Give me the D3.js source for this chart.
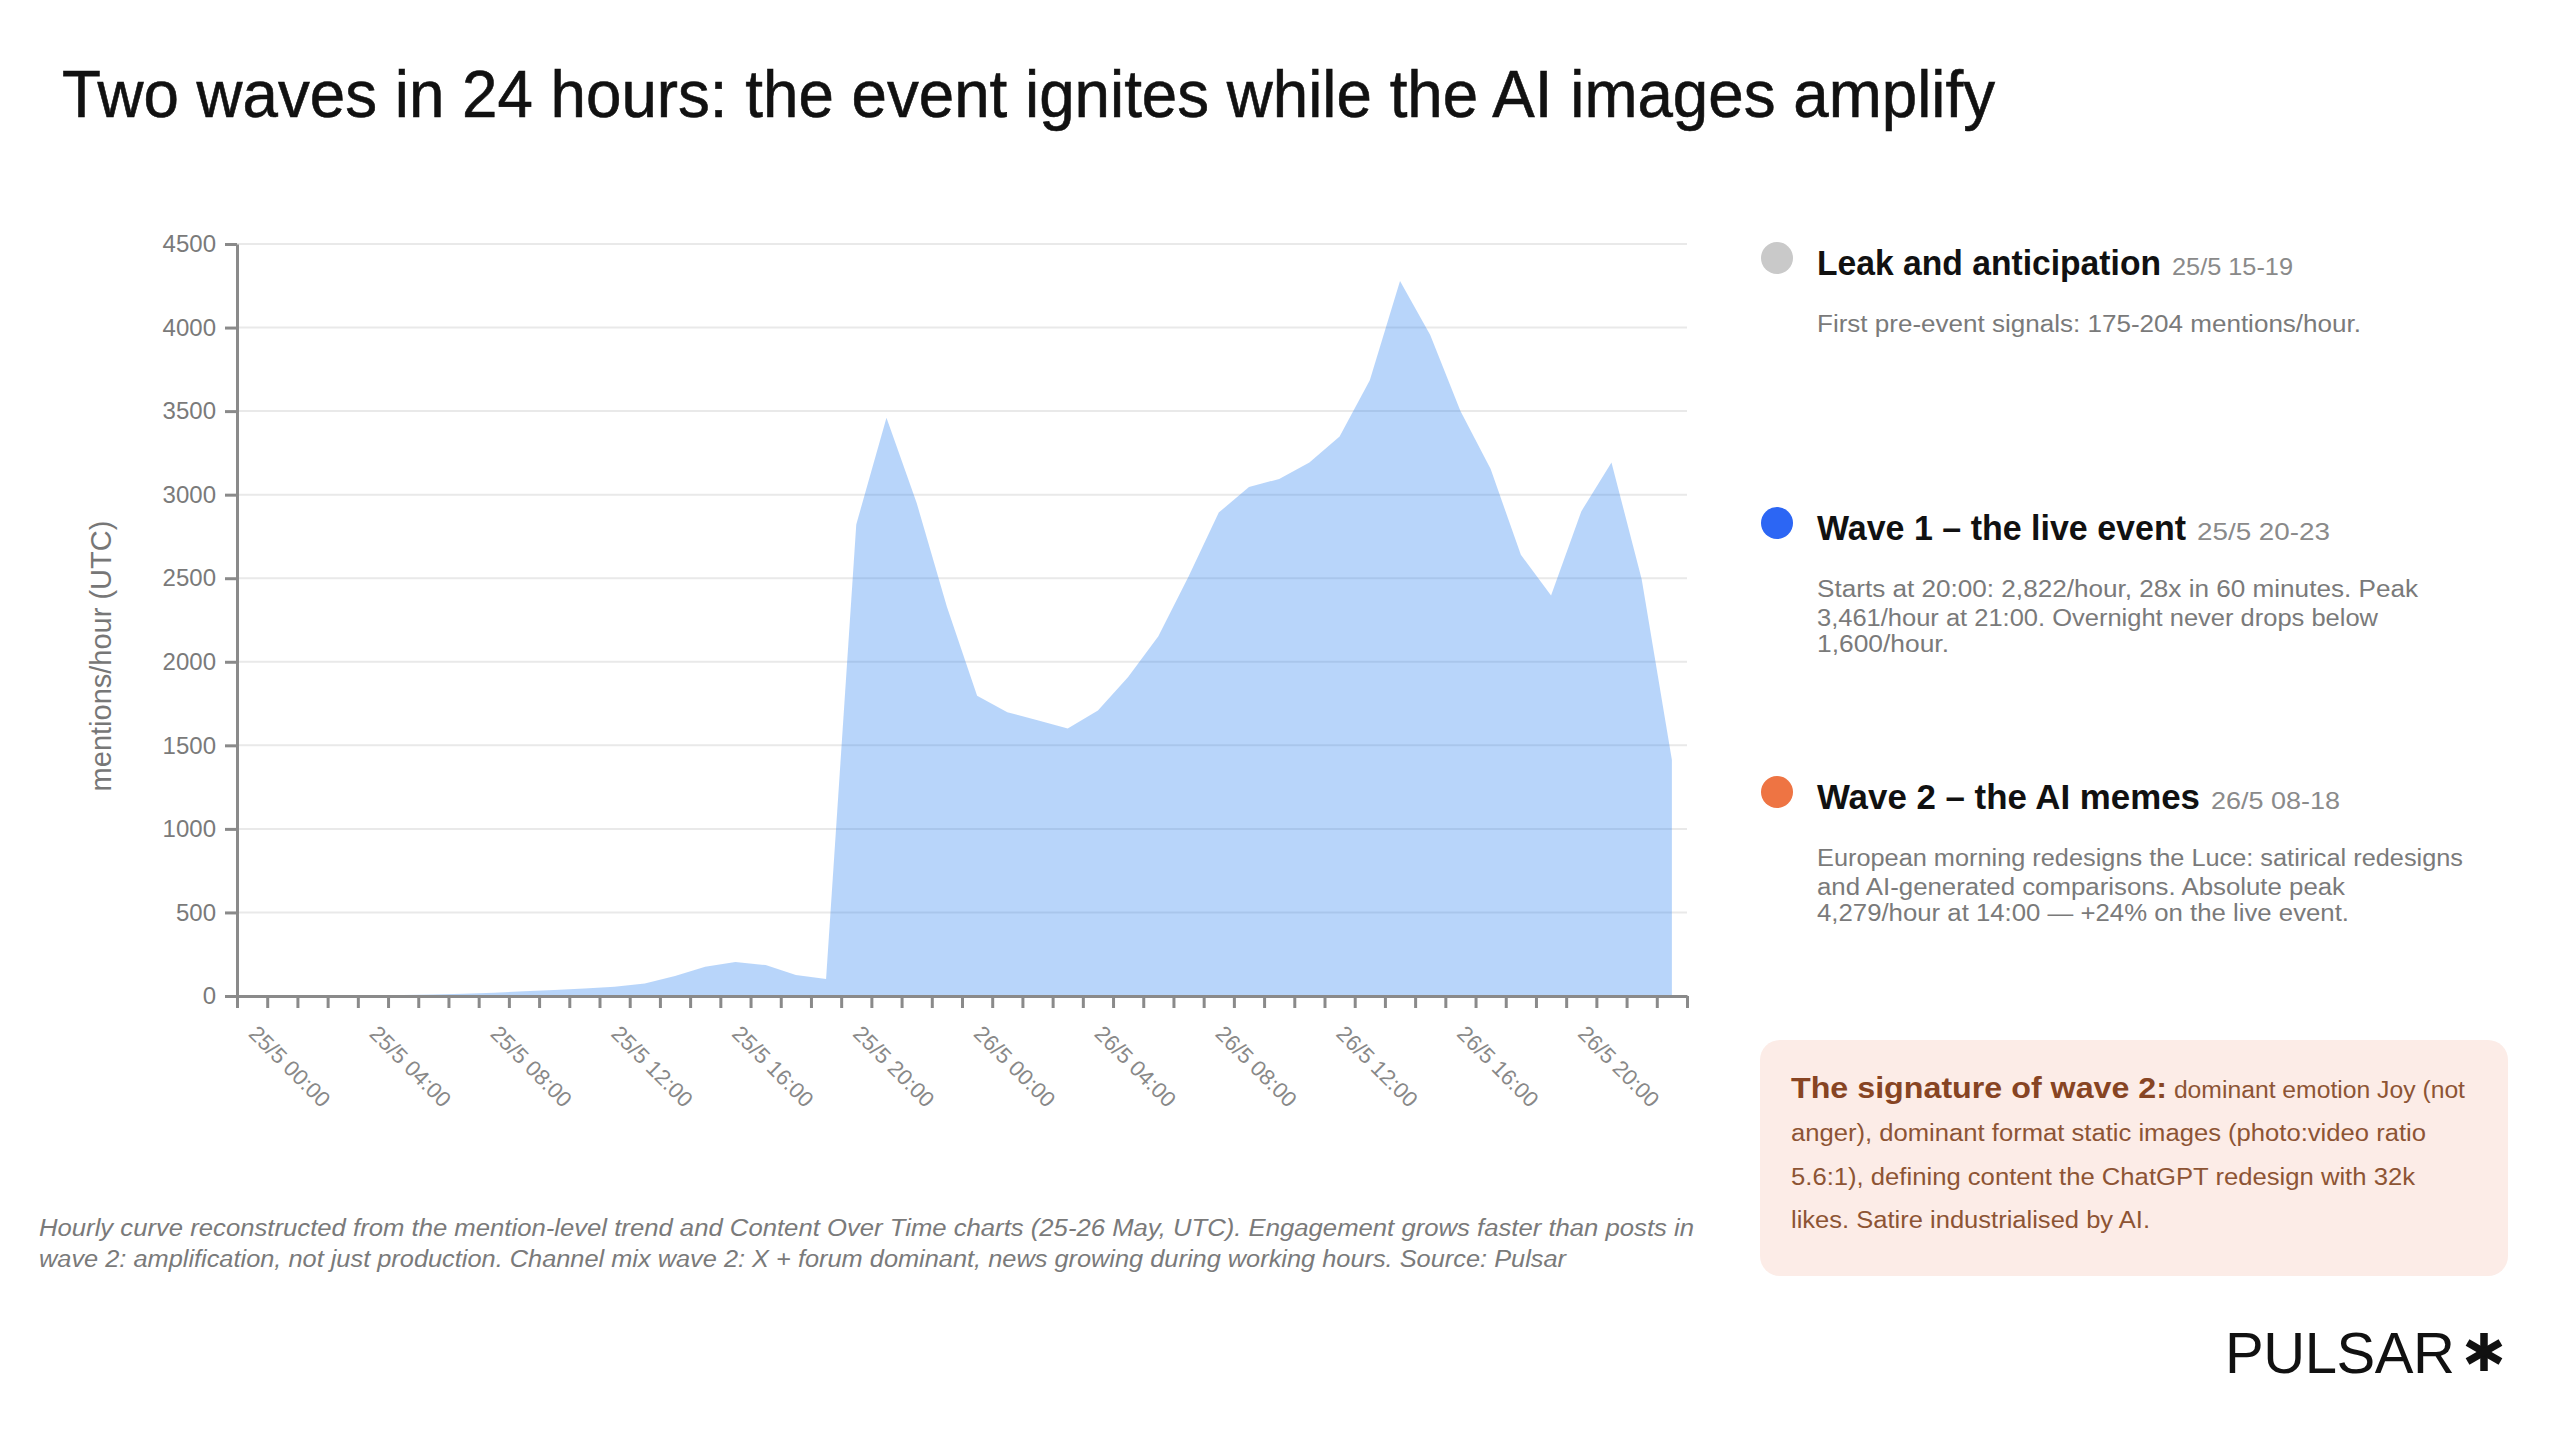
<!DOCTYPE html>
<html>
<head>
<meta charset="utf-8">
<script src="https://cdn.jsdelivr.net/npm/d3@7"></script>
<style>
  html, body { margin: 0; padding: 0; background: #fff; }
  svg { display: block; }
</style>
</head>
<body>
<div id="viz"></div>
<script>
// mentions per hour, 25/5 00:00 -> 26/5 23:00 (UTC)
const mentions = [
  2, 2, 2, 3, 4, 6, 9, 14, 20, 28, 36, 45,
  55, 75, 120, 175, 204, 185, 125, 101, 2822, 3461, 2950, 2330,
  1796, 1698, 1650, 1601, 1708, 1909, 2153, 2510, 2893, 3046, 3094, 3192,
  3348, 3685, 4279, 3955, 3500, 3153, 2640, 2396, 2900, 3192, 2494, 1412
];
const tickLabels = [
  "25/5 00:00", "25/5 04:00", "25/5 08:00", "25/5 12:00", "25/5 16:00", "25/5 20:00",
  "26/5 00:00", "26/5 04:00", "26/5 08:00", "26/5 12:00", "26/5 16:00", "26/5 20:00"
];
const yTicks = [0, 500, 1000, 1500, 2000, 2500, 3000, 3500, 4000, 4500];

const phaseTitles = ["Leak and anticipation", "Wave 1 \u2013 the live event", "Wave 2 \u2013 the AI memes"];
const phaseDates = ["25/5 15-19", "25/5 20-23", "26/5 08-18"];
const phaseColors = ["#c9c9c9", "#2c66f4", "#ee7443"];
const phaseNotes = [
  ["First pre-event signals: 175-204 mentions/hour."],
  ["Starts at 20:00: 2,822/hour, 28x in 60 minutes. Peak",
   "3,461/hour at 21:00. Overnight never drops below",
   "1,600/hour."],
  ["European morning redesigns the Luce: satirical redesigns",
   "and AI-generated comparisons. Absolute peak",
   "4,279/hour at 14:00 \u2014 +24% on the live event."]
];
const boxLead = "The signature of wave 2:";
const boxLines = [
  " dominant emotion Joy (not",
  "anger), dominant format static images (photo:video ratio",
  "5.6:1), defining content the ChatGPT redesign with 32k",
  "likes. Satire industrialised by AI."
];
const footnote = [
  "Hourly curve reconstructed from the mention-level trend and Content Over Time charts (25-26 May, UTC). Engagement grows faster than posts in",
  "wave 2: amplification, not just production. Channel mix wave 2: X + forum dominant, news growing during working hours. Source: Pulsar"
];

(function () {
  const font = "'Liberation Sans', Arial, Helvetica, sans-serif";
  const svg = d3.select("#viz").append("svg")
    .attr("width", 2560).attr("height", 1452)
    .style("font-family", font);

  // title
  svg.append("text")
    .attr("x", 62).attr("y", 117)
    .attr("font-size", 66).attr("fill", "#111")
    .attr("stroke", "#111").attr("stroke-width", 0.6)
    .attr("textLength", 1933).attr("lengthAdjust", "spacingAndGlyphs")
    .text("Two waves in 24 hours: the event ignites while the AI images amplify");

  // chart area
  const margin = { top: 244, left: 237 };
  const width = 1450, height = 752;
  const g = svg.append("g").attr("transform", `translate(${margin.left},${margin.top})`);

  const x = d3.scaleLinear().domain([0, 48]).range([0, width]);
  const y = d3.scaleLinear().domain([0, 4500]).range([height, 0]);

  g.selectAll("line.grid").data(yTicks).join("line")
    .attr("class", "grid")
    .attr("x1", 0).attr("x2", width)
    .attr("y1", d => y(d)).attr("y2", d => y(d))
    .attr("stroke", "#e9e9e9").attr("stroke-width", 2);

  const area = d3.area()
    .x((d, i) => x(i + 0.5))
    .y0(y(0))
    .y1(d => y(d));
  g.append("path")
    .datum(mentions)
    .attr("fill", "rgb(52,135,241)").attr("fill-opacity", 0.35)
    .attr("d", area);

  // x axis, one tick per hour, label every 4h
  const xAxis = g.append("g")
    .attr("transform", `translate(0,${height})`)
    .call(d3.axisBottom(x)
      .tickValues(d3.range(0, 49))
      .tickSize(12).tickSizeOuter(0)
      .tickFormat(h => (h % 4 === 0 && h < 48) ? tickLabels[h / 4] : ""));
  xAxis.select(".domain").attr("stroke", "#8a8a8a").attr("stroke-width", 3);
  xAxis.selectAll(".tick line").attr("stroke", "#8a8a8a").attr("stroke-width", 3);
  xAxis.selectAll(".tick text")
    .attr("x", 0).attr("y", 0).attr("dy", 0)
    .attr("transform", "translate(10,39) rotate(45)")
    .style("text-anchor", "start")
    .attr("font-family", font).attr("font-size", 22).attr("fill", "#888");

  // y axis
  const yAxis = g.append("g")
    .call(d3.axisLeft(y)
      .tickValues(yTicks)
      .tickFormat(d3.format("d"))
      .tickSize(12).tickPadding(9).tickSizeOuter(0));
  yAxis.select(".domain").attr("stroke", "#8a8a8a").attr("stroke-width", 3);
  yAxis.selectAll(".tick line").attr("stroke", "#8a8a8a").attr("stroke-width", 3);
  yAxis.selectAll(".tick text")
    .attr("font-family", font).attr("font-size", 24).attr("fill", "#7a7a7a");

  svg.append("text")
    .attr("transform", "translate(101,656) rotate(-90)")
    .attr("text-anchor", "middle").attr("dy", "0.35em")
    .attr("font-size", 29).attr("fill", "#777")
    .text("mentions/hour (UTC)");

  // footnote
  const footW = [1655, 1527];
  footnote.forEach((line, i) => {
    svg.append("text")
      .attr("x", 39).attr("y", 1236 + i * 31)
      .attr("font-size", 23).attr("font-style", "italic").attr("fill", "#7a7a7a")
      .attr("textLength", footW[i]).attr("lengthAdjust", "spacingAndGlyphs")
      .text(line);
  });

  // right-hand panel: phases
  const panelX = 1817;
  const headY = [275, 540, 809];
  const headW = [344, 369, 383];
  const dateW = [121, 133, 129];
  const noteW = [[544], [601, 561, 132], [646, 528, 532]];
  const noteDy = [57, 86, 112];

  phaseTitles.forEach((t, i) => {
    svg.append("circle")
      .attr("cx", 1777).attr("cy", headY[i] - 17).attr("r", 16)
      .attr("fill", phaseColors[i]);
    svg.append("text")
      .attr("x", panelX).attr("y", headY[i])
      .attr("font-size", 35).attr("font-weight", "bold").attr("fill", "#111")
      .attr("textLength", headW[i]).attr("lengthAdjust", "spacingAndGlyphs")
      .text(t);
    svg.append("text")
      .attr("x", panelX + headW[i] + 11).attr("y", headY[i])
      .attr("font-size", 24).attr("fill", "#8a8a8a")
      .attr("textLength", dateW[i]).attr("lengthAdjust", "spacingAndGlyphs")
      .text(phaseDates[i]);
    phaseNotes[i].forEach((line, j) => {
      svg.append("text")
        .attr("x", panelX).attr("y", headY[i] + noteDy[j])
        .attr("font-size", 23).attr("fill", "#7a7a7a")
        .attr("textLength", noteW[i][j]).attr("lengthAdjust", "spacingAndGlyphs")
        .text(line);
    });
  });

  // signature box
  svg.append("rect")
    .attr("x", 1760).attr("y", 1040).attr("width", 748).attr("height", 236)
    .attr("rx", 20).attr("fill", "#fcece7");
  const boxW = [674, 635, 624, 359];
  boxLines.forEach((line, i) => {
    const t = svg.append("text")
      .attr("x", 1791).attr("y", 1098 + i * 43.3)
      .attr("font-size", 23).attr("fill", "#8d5434")
      .attr("textLength", boxW[i]).attr("lengthAdjust", "spacingAndGlyphs");
    if (i === 0) {
      t.append("tspan").attr("font-size", 30).attr("font-weight", "bold")
        .attr("fill", "#874423").text(boxLead);
    }
    t.append("tspan").text(line);
  });

  // logo
  svg.append("text")
    .attr("x", 2225).attr("y", 1373)
    .attr("font-size", 58).attr("fill", "#111")
    .attr("textLength", 230).attr("lengthAdjust", "spacing")
    .text("PULSAR");
  const star = svg.append("g").attr("transform", "translate(2484,1352)");
  [90, 30, 150].forEach(a => {
    const r = a * Math.PI / 180;
    star.append("line")
      .attr("x1", -19 * Math.cos(r)).attr("y1", -19 * Math.sin(r))
      .attr("x2", 19 * Math.cos(r)).attr("y2", 19 * Math.sin(r))
      .attr("stroke", "#111").attr("stroke-width", 7.5);
  });
})();
</script>
</body>
</html>
